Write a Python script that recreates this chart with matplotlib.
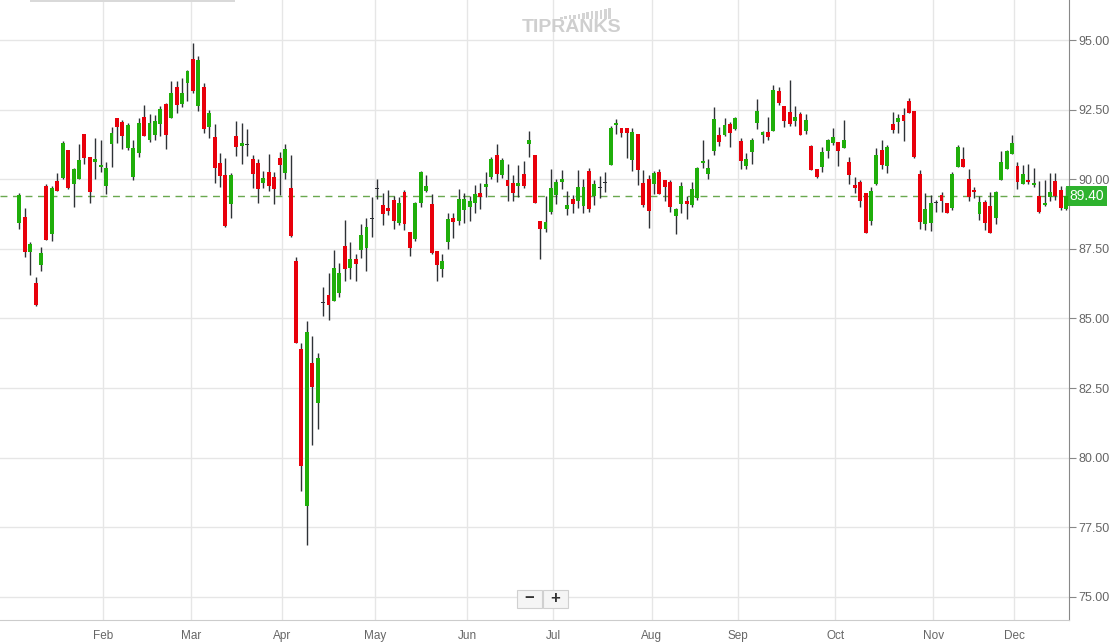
import numpy as np
import matplotlib.pyplot as plt
from matplotlib.patches import Rectangle

# daily OHLC
opens = [88.44, 88.64, 87.40, 86.27, 86.93, 89.76, 88.05, 89.94, 90.03, 91.05,
         89.84, 90.02, 91.62, 90.79, 90.63, 90.45, 89.77, 91.25, 92.20, 92.04,
         91.13, 90.09, 90.95, 92.24, 91.42, 91.60, 91.99, 92.70, 92.21, 93.31,
         92.71, 93.47, 94.32, 92.64, 93.30, 91.87, 91.51, 90.58, 90.15, 89.12,
         91.55, 91.21, 91.26, 90.73, 90.58, 89.88, 90.27, 90.08, 90.77, 90.24,
         89.69, 87.06, 83.90, 78.28, 83.41, 81.98, 85.58, 85.83, 85.64, 85.93,
         87.60, 86.82, 87.14, 87.47, 87.54, 88.60, 89.68, 89.08, 88.97, 89.25,
         88.44, 89.54, 88.11, 87.85, 89.16, 89.59, 89.11, 87.42, 86.79, 87.76,
         88.61, 88.51, 88.91, 89.01, 89.16, 89.51, 89.73, 90.09, 90.87, 90.16,
         89.97, 89.87, 89.77, 90.19, 91.27, 90.87, 88.51, 88.22, 88.83, 89.45,
         89.91, 88.94, 89.30, 89.23, 89.05, 90.30, 89.41, 89.71, 89.90, 90.52,
         91.95, 91.84, 91.84, 90.69, 91.62, 89.87, 90.01, 89.84, 90.26, 89.97,
         89.90, 88.69, 89.12, 89.22, 89.09, 89.34, 90.59, 90.20, 91.03, 91.59,
         91.60, 91.98, 91.82, 91.37, 90.49, 90.99, 92.03, 91.60, 91.71, 91.74,
         93.17, 92.63, 92.41, 92.10, 92.34, 91.74, 91.19, 90.38, 90.45, 91.03,
         91.30, 91.34, 91.13, 90.62, 89.79, 89.90, 89.51, 88.51, 89.84, 91.05,
         90.49, 91.98, 92.06, 92.31, 92.81, 92.45, 90.19, 88.40, 88.44, 89.18,
         89.43, 89.15, 88.98, 90.45, 90.73, 90.01, 89.61, 88.76, 89.18, 89.04,
         88.62, 89.98, 90.38, 90.90, 90.48, 89.82, 89.97, 89.78, 89.40, 89.08,
         89.36, 89.94, 89.61, 88.93]
highs = [89.51, 88.97, 87.75, 86.50, 87.57, 89.83, 89.76, 90.22, 91.37, 91.05,
         90.40, 91.28, 91.62, 90.79, 91.48, 91.41, 90.62, 91.89, 92.20, 92.13,
         92.02, 91.40, 92.20, 92.67, 92.34, 92.31, 92.63, 92.74, 93.53, 93.53,
         93.64, 93.92, 94.89, 94.43, 93.45, 92.50, 91.98, 90.94, 90.76, 90.22,
         92.09, 92.02, 91.80, 90.87, 90.73, 90.30, 90.92, 90.27, 90.99, 91.27,
         90.87, 87.20, 84.12, 84.91, 84.38, 83.77, 86.13, 86.63, 87.46, 86.99,
         88.54, 87.75, 87.32, 88.39, 88.61, 89.37, 90.00, 89.51, 89.61, 89.40,
         89.36, 89.61, 88.11, 89.18, 90.30, 90.15, 89.47, 87.42, 87.32, 88.79,
         88.79, 89.65, 89.51, 89.40, 89.78, 89.87, 90.26, 90.80, 91.27, 90.76,
         90.55, 90.15, 90.51, 90.66, 91.73, 90.87, 88.51, 89.41, 90.37, 90.01,
         90.33, 89.58, 89.45, 90.33, 90.01, 90.40, 89.97, 90.12, 90.26, 91.91,
         92.16, 91.84, 91.84, 91.84, 91.62, 90.33, 90.15, 90.30, 90.37, 89.97,
         89.97, 88.98, 89.90, 89.40, 89.90, 90.44, 91.41, 90.73, 92.59, 91.88,
         92.20, 92.06, 92.24, 91.48, 90.94, 91.48, 92.88, 91.74, 92.24, 93.38,
         93.31, 92.63, 93.56, 92.63, 92.41, 92.34, 91.23, 90.38, 91.16, 91.45,
         91.84, 91.34, 92.13, 90.80, 90.08, 89.97, 89.51, 89.73, 91.12, 91.41,
         91.23, 92.41, 92.34, 92.56, 92.92, 92.45, 90.33, 89.51, 89.43, 89.27,
         89.54, 89.15, 90.26, 91.24, 91.16, 90.37, 89.72, 89.40, 89.25, 89.54,
         89.58, 91.01, 91.05, 91.59, 90.62, 90.51, 90.55, 90.40, 89.94, 89.97,
         90.22, 90.22, 89.76, 89.72]
lows = [88.20, 87.22, 86.57, 85.45, 86.72, 87.83, 87.79, 89.59, 90.00, 89.65,
        89.01, 90.02, 90.56, 89.16, 90.02, 90.27, 89.48, 90.45, 91.31, 91.10,
        91.06, 89.98, 90.81, 91.56, 91.35, 91.42, 91.56, 91.10, 92.21, 92.39,
        92.60, 92.82, 93.11, 92.46, 91.65, 91.49, 89.88, 89.73, 88.27, 88.62,
        90.85, 90.56, 90.85, 89.70, 89.16, 89.70, 89.59, 89.12, 89.45, 90.02,
        87.94, 84.11, 78.82, 76.87, 80.47, 81.04, 85.10, 84.96, 85.64, 85.78,
        86.36, 86.43, 86.36, 87.18, 86.72, 87.94, 89.28, 88.37, 88.73, 88.22,
        88.37, 88.19, 87.26, 87.78, 89.01, 89.55, 87.33, 86.36, 86.50, 87.51,
        87.90, 88.37, 88.44, 88.51, 88.80, 88.94, 89.37, 90.02, 89.91, 90.06,
        89.23, 89.23, 89.37, 89.70, 90.80, 89.16, 87.13, 88.12, 88.76, 89.12,
        89.66, 88.73, 88.80, 88.98, 88.80, 88.83, 89.09, 89.34, 89.55, 90.52,
        91.64, 91.53, 90.77, 90.30, 89.80, 89.01, 88.26, 89.48, 89.48, 89.23,
        88.83, 88.05, 88.80, 88.58, 89.01, 89.27, 90.40, 90.02, 90.88, 91.20,
        91.56, 91.17, 91.78, 90.38, 90.38, 90.56, 91.81, 91.31, 91.42, 91.74,
        92.67, 91.89, 91.92, 91.92, 91.60, 91.64, 90.34, 90.06, 90.27, 90.77,
        91.23, 90.49, 91.13, 89.84, 89.52, 89.01, 88.08, 88.37, 89.80, 90.38,
        90.24, 91.67, 91.67, 91.38, 92.38, 90.77, 88.22, 88.19, 88.15, 88.84,
        88.84, 88.80, 88.91, 90.45, 90.45, 89.23, 89.34, 88.55, 88.19, 88.08,
        88.40, 89.98, 90.38, 90.90, 89.66, 89.82, 89.84, 89.73, 88.78, 89.04,
        89.23, 89.25, 88.90, 88.90]
closes = [89.42, 87.40, 87.68, 85.50, 87.34, 87.83, 89.69, 89.59, 91.31, 89.70,
          90.37, 90.69, 90.77, 89.55, 90.73, 90.51, 90.40, 91.66, 91.89, 91.56,
          91.95, 91.11, 92.02, 91.56, 92.02, 92.09, 92.52, 91.60, 93.10, 92.68,
          93.10, 93.89, 93.18, 94.28, 91.80, 92.37, 90.41, 90.13, 88.33, 90.15,
          91.17, 91.30, 91.26, 90.20, 89.66, 90.04, 89.77, 89.66, 90.52, 91.09,
          87.96, 84.13, 79.71, 84.52, 82.55, 83.58, 85.58, 85.50, 86.81, 86.63,
          86.79, 87.14, 86.97, 88.00, 88.29, 88.60, 89.68, 88.76, 88.87, 88.51,
          89.15, 88.40, 87.54, 89.15, 90.26, 89.76, 87.36, 86.92, 87.06, 88.57,
          88.48, 89.29, 89.29, 89.22, 89.47, 89.36, 89.83, 90.73, 90.20, 90.69,
          89.77, 89.52, 89.87, 89.77, 91.41, 89.16, 88.22, 88.48, 89.69, 89.90,
          90.01, 89.08, 89.12, 89.72, 89.72, 88.94, 89.83, 89.71, 89.90, 91.84,
          92.02, 91.66, 91.66, 91.70, 90.33, 89.09, 88.87, 90.22, 89.48, 89.73,
          89.01, 88.94, 89.76, 89.12, 89.65, 90.40, 90.66, 90.40, 92.16, 91.35,
          91.95, 91.67, 92.20, 90.67, 90.73, 91.41, 92.45, 91.71, 91.53, 93.20,
          92.74, 92.10, 92.00, 92.24, 91.60, 92.13, 90.34, 90.09, 90.98, 91.41,
          91.52, 91.03, 91.41, 90.16, 89.69, 89.23, 88.08, 89.59, 90.87, 90.52,
          91.16, 91.78, 92.20, 92.09, 92.38, 90.81, 88.48, 88.93, 89.15, 89.18,
          89.22, 88.80, 90.19, 91.16, 90.45, 89.37, 89.55, 89.18, 88.44, 88.08,
          89.54, 90.62, 91.01, 91.30, 89.91, 90.19, 89.90, 89.87, 88.81, 89.15,
          89.54, 89.40, 88.97, 89.40]

month_labels = ['Feb', 'Mar', 'Apr', 'May', 'Jun', 'Jul', 'Aug', 'Sep', 'Oct', 'Nov', 'Dec']
month_pos = [15.5, 31.6, 48.5, 65.5, 82.6, 98.4, 116.6, 132.5, 150.4, 168.5, 183.4]
price_ticks = [75.0, 77.5, 80.0, 82.5, 85.0, 87.5, 90.0, 92.5, 95.0]

plt.rcParams['font.family'] = ['Liberation Sans', 'DejaVu Sans']

o = np.array(opens)
h = np.array(highs)
l = np.array(lows)
c = np.array(closes)
x = np.arange(len(o))

green = '#1fae0a'
red = '#e8000b'
dark = '#2e3236'

flat = np.abs(c - o) < 0.005
colors = np.where(c > o, green, red)
colors[flat] = dark
body = np.abs(c - o)
body[flat] = 0.04
bottom = np.minimum(o, c)
bottom[flat] = o[flat] - 0.02

fig = plt.figure(figsize=(11.13, 6.44), dpi=100)
ax = fig.add_axes([0, 24 / 644, 1069 / 1113, 620 / 644])

ax.vlines(x, l, h, color=dark, lw=1, zorder=3)
ax.bar(x, body, bottom=bottom, width=0.72, color=colors, lw=0, zorder=4)

# last price line + tag
ax.axhline(c[-1], color='#6aa84f', ls=(0, (5, 4)), lw=1, zorder=2)
ax.text(1.0, c[-1], '%.2f' % c[-1], transform=ax.get_yaxis_transform(),
        ha='left', va='center', color='white', fontsize=10,
        bbox=dict(boxstyle='square,pad=0.25', fc='#2eb22e', ec='none'))

ax.set_xlim(-3.56, 193.5)
ax.set_ylim(74.17, 96.44)
ax.set_xticks(month_pos)
ax.set_xticklabels(month_labels)
ax.set_yticks(price_ticks)
ax.set_yticklabels(['%.2f' % p for p in price_ticks])
ax.yaxis.tick_right()
ax.grid(color='#e6e6e6', lw=1, zorder=0)
ax.tick_params(axis='x', length=0, pad=7, labelsize=8.5, labelcolor='#666666')
ax.tick_params(axis='y', length=5, color='#888888', pad=2, labelsize=9, labelcolor='#666666')
for s in ['left', 'top']:
    ax.spines[s].set_visible(False)
ax.spines['right'].set_color('#888888')
ax.spines['bottom'].set_color('#cccccc')

# watermark
fig.text(572 / 1113, 1 - 27 / 644, 'TIPRANKS', ha='center', va='center',
         fontsize=14, fontweight='bold', color='#cfcfcf')
for i in range(12):
    bh = 2 + i * 0.8
    fig.add_artist(Rectangle(((560 + i * 4.4) / 1113, 1 - 19 / 644), 2.5 / 1113, bh / 644,
                             transform=fig.transFigure, color='#d4d4d4', lw=0))

# top strip
fig.add_artist(Rectangle((30 / 1113, 1 - 2 / 644), 205 / 1113, 2 / 644,
                         transform=fig.transFigure, color='#d9d9d9', lw=0))

# zoom buttons
for bx, sym in [(517, '\u2212'), (543, '+')]:
    fig.add_artist(Rectangle((bx / 1113, 1 - 608 / 644), 25 / 1113, 18 / 644,
                             transform=fig.transFigure, fc='#f5f5f5', ec='#d0d0d0', lw=0.8))
    fig.text((bx + 12.5) / 1113, 1 - 599 / 644, sym, ha='center', va='center',
             fontsize=12, fontweight='bold', color='#333333')

fig.savefig('out.png', dpi=100)
